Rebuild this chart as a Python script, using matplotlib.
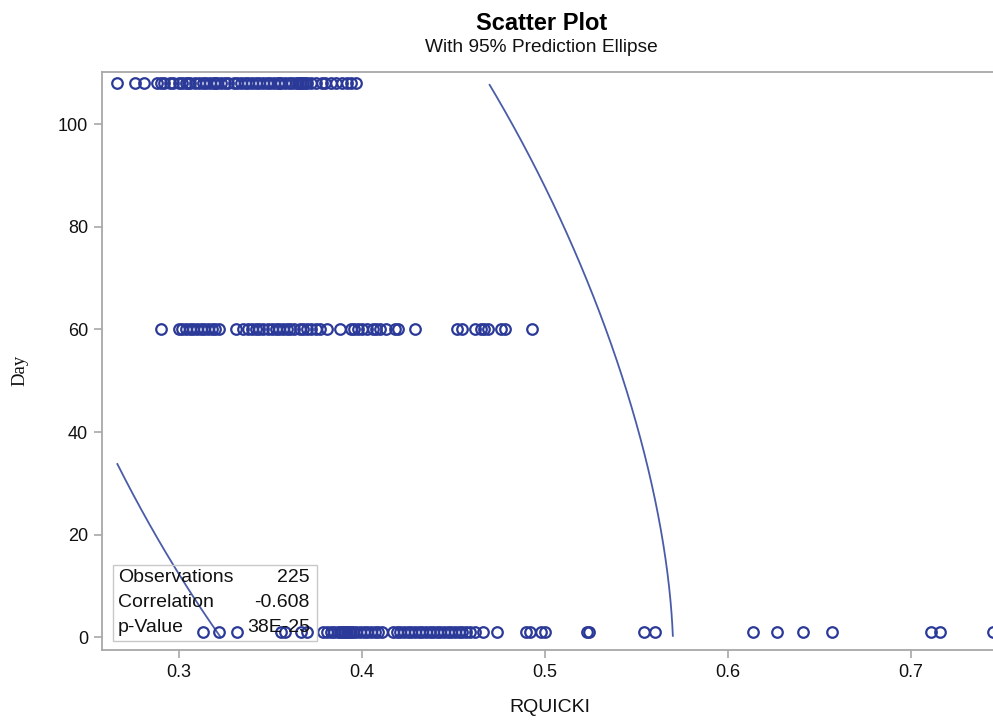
import numpy as np
import matplotlib
matplotlib.use("Agg")
import matplotlib.pyplot as plt

# -------------------------
# Data
# -------------------------

rquicki_day108 = [
    0.266, 0.276, 0.281, 0.288, 0.290, 0.292, 0.295, 0.297, 0.300, 0.302,
    0.304, 0.305, 0.306, 0.309, 0.311, 0.313, 0.315, 0.317, 0.319, 0.320,
    0.321, 0.323, 0.325, 0.327, 0.330, 0.332, 0.334, 0.336, 0.338, 0.340,
    0.342, 0.344, 0.346, 0.348, 0.350, 0.352, 0.354, 0.355, 0.356, 0.358,
    0.360, 0.362, 0.364, 0.365, 0.366, 0.367, 0.368, 0.369, 0.370, 0.372,
    0.375, 0.378, 0.380, 0.383, 0.386, 0.389, 0.392, 0.394, 0.397,
]

rquicki_day60 = [
    0.290, 0.300, 0.302, 0.304, 0.306, 0.308, 0.310, 0.312, 0.314, 0.316,
    0.318, 0.320, 0.322, 0.331, 0.335, 0.338, 0.340, 0.342, 0.344, 0.346,
    0.349, 0.351, 0.353, 0.355, 0.357, 0.359, 0.361, 0.363, 0.366, 0.368,
    0.370, 0.372, 0.375, 0.377, 0.381, 0.388, 0.394, 0.396, 0.398, 0.400,
    0.403, 0.406, 0.408, 0.410, 0.413, 0.418, 0.420, 0.429, 0.452, 0.455,
    0.462, 0.465, 0.467, 0.469, 0.476, 0.478, 0.493,
]

rquicki_day1 = [
    0.313, 0.322, 0.332, 0.356, 0.358, 0.367, 0.370,
    0.379, 0.381, 0.383, 0.385, 0.387, 0.388, 0.389, 0.390, 0.391, 0.392,
    0.393, 0.394, 0.395, 0.397, 0.399, 0.401, 0.403, 0.405, 0.407, 0.409,
    0.411,
    0.417, 0.419, 0.421, 0.423, 0.425, 0.427, 0.429, 0.431, 0.433, 0.435,
    0.437, 0.439, 0.441, 0.443, 0.445, 0.447, 0.449, 0.451, 0.453, 0.455,
    0.457, 0.459, 0.462, 0.466,
    0.474, 0.490, 0.492, 0.498, 0.500, 0.523, 0.524, 0.554, 0.560, 0.614,
    0.627, 0.641, 0.657, 0.711, 0.716, 0.745,
]

day_levels = [1, 60, 108]

# prediction ellipse parameters
ellipse_mean = (0.3817, 61.9)
ellipse_sd = (0.0762, 44.3)
ellipse_r = -0.608
ellipse_c = 6.125  # 95% prediction scaling

stat_labels = ["Observations", "Correlation", "p-Value"]
stat_values = ["225", "-0.608", "38E-25"]

# -------------------------
# Style
# -------------------------

plt.rcParams["font.family"] = ["Liberation Sans", "DejaVu Sans"]

MARKER_COLOR = "#2b3a98"
LINE_COLOR = "#4a5ca8"
FRAME_COLOR = "#a8a8a8"
TEXT_COLOR = "#111111"

x_all = np.array(rquicki_day1 + rquicki_day60 + rquicki_day108)
y_all = np.array([day_levels[0]] * len(rquicki_day1)
                 + [day_levels[1]] * len(rquicki_day60)
                 + [day_levels[2]] * len(rquicki_day108))

# -------------------------
# Plot
# -------------------------

fig = plt.figure(figsize=(9.93, 7.2), dpi=100)
ax = fig.add_axes([0.1027, 0.0972, 0.902, 0.8028])

ax.plot(x_all, y_all, linestyle="none", marker="o", markersize=7.6,
        markerfacecolor="none", markeredgecolor=MARKER_COLOR,
        markeredgewidth=1.6, zorder=3)

# ellipse from mean / covariance
sx, sy = ellipse_sd
cov = np.array([[sx * sx, ellipse_r * sx * sy],
                [ellipse_r * sx * sy, sy * sy]])
L = np.linalg.cholesky(cov)
t = np.linspace(0, 2 * np.pi, 2000)
pts = (L @ np.vstack([np.cos(t), np.sin(t)])) * np.sqrt(ellipse_c)
ex = pts[0] + ellipse_mean[0]
ey = pts[1] + ellipse_mean[1]
# clip to data range
mask = ((ex < x_all.min()) | (ex > x_all.max())
        | (ey < y_all.min() - 1) | (ey > y_all.max()))
ex = np.where(mask, np.nan, ex)
ey = np.where(mask, np.nan, ey)
ax.plot(ex, ey, color=LINE_COLOR, linewidth=1.3, zorder=2)

ax.set_xlim(0.258, 0.7475)
ax.set_ylim(-2.5, 110.2)
ax.set_xticks([0.3, 0.4, 0.5, 0.6, 0.7])
ax.set_xticklabels(["0.3", "0.4", "0.5", "0.6", "0.7"])
ax.set_yticks([0, 20, 40, 60, 80, 100])

for s in ax.spines.values():
    s.set_color(FRAME_COLOR)
    s.set_linewidth(1.3)
ax.tick_params(colors=FRAME_COLOR, labelcolor=TEXT_COLOR, labelsize=13,
               length=6, width=1.2, pad=4)

ax.set_xlabel("RQUICKI", fontsize=14, color=TEXT_COLOR, labelpad=13)
ax.set_ylabel("Day", fontsize=13.5, family=["Liberation Serif", "DejaVu Serif"],
              color=TEXT_COLOR)
ax.yaxis.set_label_coords(-0.082, 0.484)

# title
fig.text(0.545, 0.968, "Scatter Plot", ha="center", va="center",
         fontsize=17, fontweight="bold", color="#000000")
fig.text(0.545, 0.934, "With 95% Prediction Ellipse", ha="center",
         va="center", fontsize=13.8, color=TEXT_COLOR)

# stats inset
inset_box = plt.Rectangle((0.0119, 0.0161), 0.2278, 0.131,
                          transform=ax.transAxes, fill=False,
                          edgecolor="#c8c8c8", linewidth=1.0, zorder=4)
ax.add_patch(inset_box)
row_y = [0.125, 0.082, 0.039]
for lab, val, yy in zip(stat_labels, stat_values, row_y):
    ax.text(0.018, yy, lab, transform=ax.transAxes, ha="left", va="center",
            fontsize=14, color=TEXT_COLOR, zorder=5)
    ax.text(0.2322, yy, val, transform=ax.transAxes, ha="right", va="center",
            fontsize=14, color=TEXT_COLOR, zorder=5)

fig.savefig("out.png", dpi=100)
